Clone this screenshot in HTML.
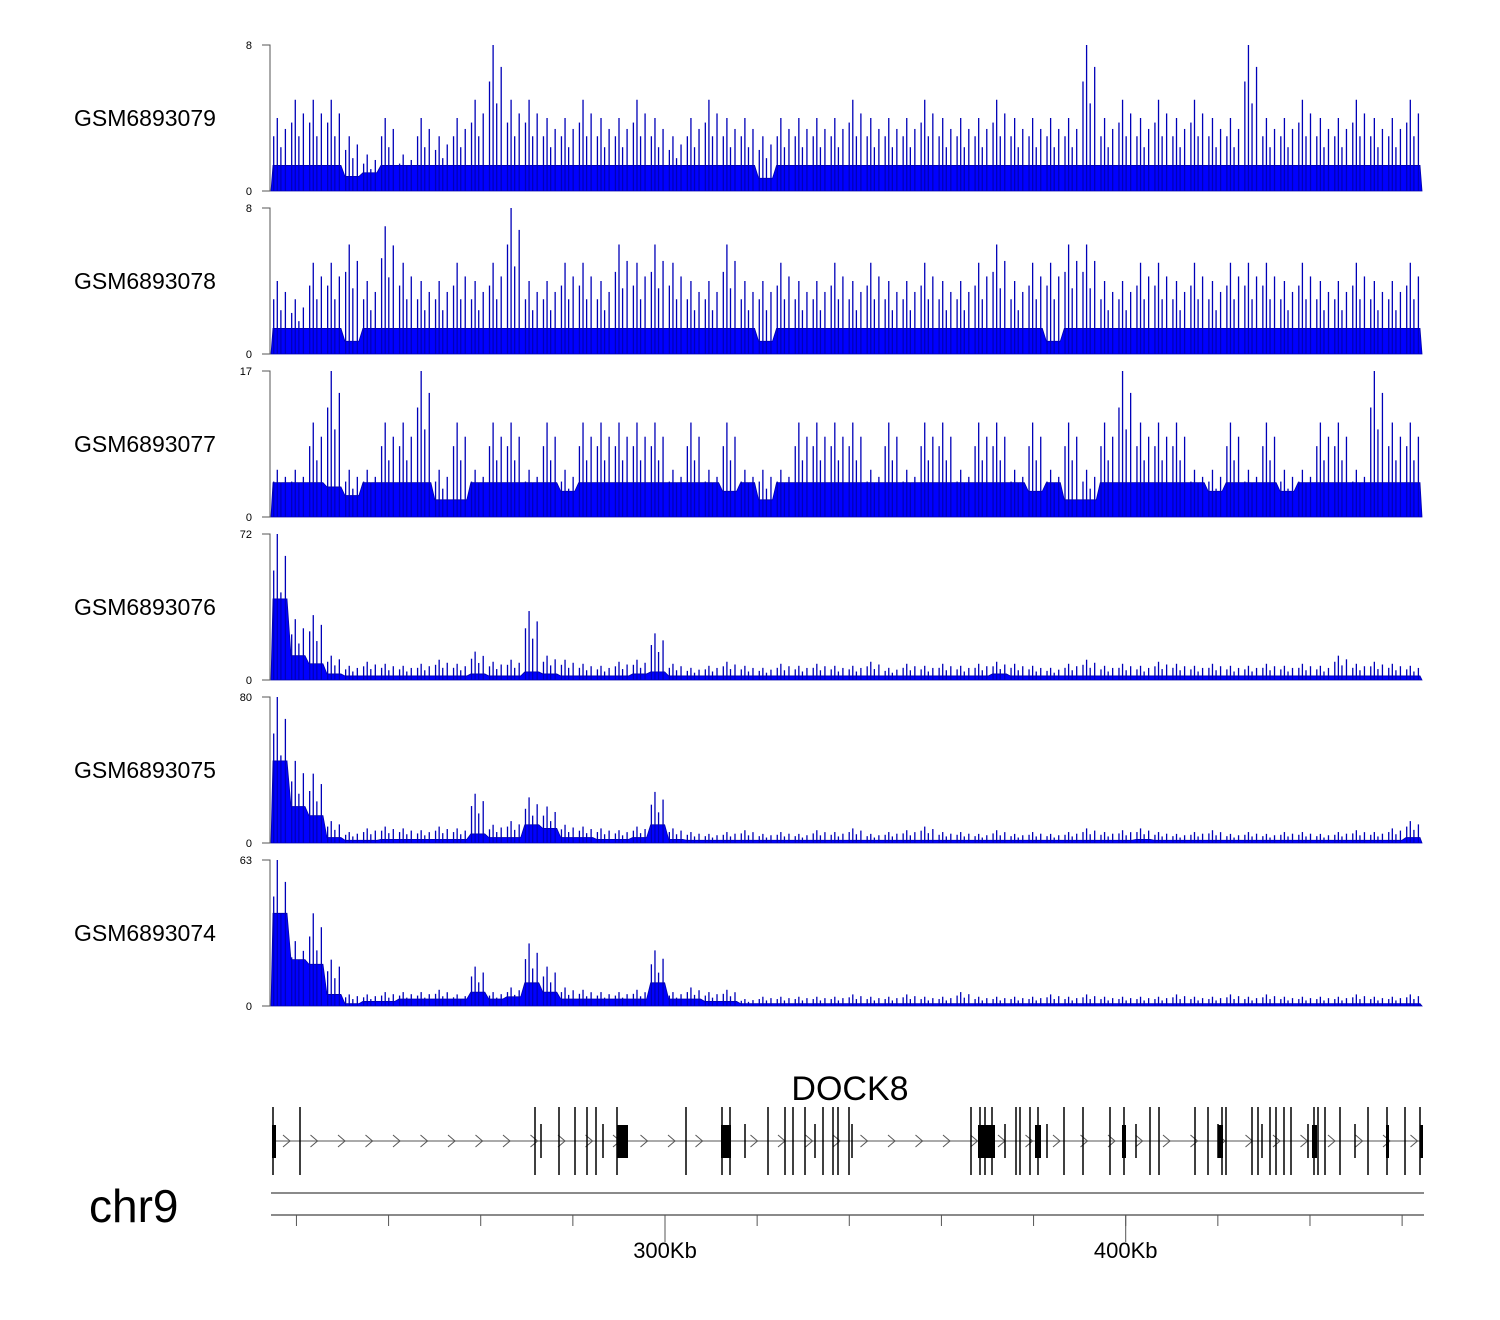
<!DOCTYPE html>
<html><head><meta charset="utf-8"><style>
html,body{margin:0;padding:0;background:#fff;}
svg{display:block;font-family:"Liberation Sans",sans-serif;}
</style></head><body>
<svg id="chart" width="1500" height="1320" viewBox="0 0 1500 1320"></svg>
<script>
const trackNames = ["GSM6893079","GSM6893078","GSM6893077","GSM6893076","GSM6893075","GSM6893074"];
const trackMax = [8,8,17,72,80,63];
const base1 = [1.4,1.4,1.4,1.4,0.8,1,1.4,1.4,1.4,1.4,1.4,1.4,1.4,1.4,1.4,1.4,1.4,1.4,1.4,1.4,1.4,1.4,1.4,1.4,1.4,1.4,1.4,0.7,1.4,1.4,1.4,1.4,1.4,1.4,1.4,1.4,1.4,1.4,1.4,1.4,1.4,1.4,1.4,1.4,1.4,1.4,1.4,1.4,1.4,1.4,1.4,1.4,1.4,1.4,1.4,1.4,1.4,1.4,1.4,1.4,1.4,1.4,1.4,1.4];
const peak1 = [4,5,5,5,3,2,4,2,4,3,4,5,8,5,5,4,4,5,4,4,5,4,3,4,5,4,4,3,4,4,4,4,5,4,4,4,5,4,4,4,5,4,4,4,4,8,4,5,4,5,4,5,4,4,8,4,4,5,4,4,5,4,4,5];
const base2 = [1.4,1.4,1.4,1.4,0.7,1.4,1.4,1.4,1.4,1.4,1.4,1.4,1.4,1.4,1.4,1.4,1.4,1.4,1.4,1.4,1.4,1.4,1.4,1.4,1.4,1.4,1.4,0.7,1.4,1.4,1.4,1.4,1.4,1.4,1.4,1.4,1.4,1.4,1.4,1.4,1.4,1.4,1.4,0.7,1.4,1.4,1.4,1.4,1.4,1.4,1.4,1.4,1.4,1.4,1.4,1.4,1.4,1.4,1.4,1.4,1.4,1.4,1.4,1.4];
const peak2 = [4,3,5,5,6,4,7,5,4,4,5,4,5,8,4,4,5,5,4,6,5,6,5,4,4,6,4,4,5,4,4,5,4,5,4,4,5,4,4,5,6,4,5,5,6,6,4,4,5,5,4,5,4,5,5,5,4,5,4,4,5,4,4,5];
const base3 = [4,4,4,3.5,2.5,4,4,4,4,2,2,4,4,4,4,4,3,4,4,4,4,4,4,4,4,3,4,2,4,4,4,4,4,4,4,4,4,4,4,4,4,4,3,4,2,2,4,4,4,4,4,4,3,4,4,4,3,4,4,4,4,4,4,4];
const peak3 = [5.5,5.5,11,17,5.5,5.5,11,11,17,5.5,11,5.5,11,11,5.5,11,5.5,11,11,11,11,11,5.5,11,5.5,11,5.5,5.5,5.5,11,11,11,11,5.5,11,5.5,11,11,5.5,11,11,5.5,11,5.5,11,5.5,11,17,11,11,11,5.5,5.5,11,5.5,11,5.5,5.5,11,11,5.5,17,11,11];
const base4 = [40,12,8,3,2,2,2,2,2,2,2,3,2,2,4,3,2,2,2,2,3,4,2,2,2,2,2,2,2,2,2,2,2,2,2,2,2,2,2,2,3,2,2,2,2,2,2,2,2,2,2,2,2,2,2,2,2,2,2,2,2,2,2,2];
const peak4 = [72,30,32,12,7,9,8,7,8,10,8,14,9,10,34,12,10,8,7,9,10,23,8,6,7,9,7,6,8,7,8,7,7,9,6,8,7,8,7,8,9,8,7,6,8,10,7,8,7,9,8,7,8,7,7,8,7,8,7,12,8,9,8,7];
const base5 = [45,20,15,3,1.5,1.5,2,2,2,2,2,5,3,3,10,8,3,3,2,2,3,10,2,1.5,1.5,1.5,1.5,1.5,1.5,1.5,1.5,1.5,1.5,1.5,1.5,1.5,1.5,1.5,1.5,1.5,1.5,1.5,1.5,1.5,1.5,1.5,1.5,1.5,2,1.5,1.5,1.5,1.5,1.5,1.5,1.5,1.5,1.5,1.5,1.5,1.5,1.5,1.5,3];
const peak5 = [80,45,38,12,6,8,9,8,7,9,8,27,10,12,25,20,10,9,8,7,9,28,8,6,5,6,7,5,6,5,7,6,8,5,6,7,9,6,6,5,7,5,6,5,6,8,6,7,8,6,5,6,7,5,6,5,6,6,5,6,7,6,8,12];
const base6 = [40,20,18,5,1,2,2,3,3,3,3,6,3,4,10,6,3,3,3,3,3,10,3,3,2,2,1,1,1,1,1,1,1,1,1,1,1,1,1,1,1,1,1,1,1,1,1,1,1,1,1,1,1,1,1,1,1,1,1,1,1,1,1,1];
const peak6 = [63,28,40,20,5,5,6,6,6,7,5,17,6,8,27,17,8,7,6,6,7,24,6,8,6,7,3,4,4,4,4,4,5,4,4,5,4,4,6,4,4,4,4,5,4,5,4,4,4,4,5,4,4,5,4,5,4,4,4,4,5,4,4,5];
const bases = [base1,base2,base3,base4,base5,base6];
const peaks = [peak1,peak2,peak3,peak4,peak5,peak6];
const exons = [273,300,535,541,559,575,587,596,603,617,686,722,730,745,768,785,793,805,815,823,833,838,849,852,971,980,985,992,1005,1016,1020,1030,1038,1047,1064,1083,1110,1124,1136,1150,1159,1195,1208,1218,1222,1226,1252,1258,1262,1270,1276,1284,1291,1308,1314,1318,1325,1340,1355,1368,1387,1405,1420];
const exonBoxes = [[272,276],[617,628],[721,731],[978,995],[1035,1041],[1122,1126],[1218,1223],[1312,1317],[1386,1389],[1420,1423]];
const tickKb = [220,240,260,280,300,320,340,360,380,400,420,440,460];
const tickLabels = ["300Kb","400Kb"];
const tickLabelKb = [300,400];

const NS = "http://www.w3.org/2000/svg";
const svg = document.getElementById("chart");
function mk(tag, attrs, parent){const e=document.createElementNS(NS,tag);for(const k in attrs)e.setAttribute(k,attrs[k]);(parent||svg).appendChild(e);return e;}
const X0 = 271, X1 = 1422, nb = 64, bw = (X1 - X0) / nb;
const xBin = i => X0 + i * bw;
const kbToX = kb => 665 + (kb - 300) * 4.607;
const spikeFrac = [[0.15,0.75],[0.35,1],[0.55,0.6],[0.8,0.85]];

trackNames.forEach((name, t) => {
  const top = 45 + t * 163, bot = top + 146;
  const y = v => bot - v / trackMax[t] * 146;
  const g = mk("g", {});
  
  
  const lab = mk("text", {x:74, y:(top+bot)/2+8, "font-size":23, fill:"#000"}, g);
  lab.textContent = name;
  
  
  const ax = mk("path", {d:`M262 ${top}H270V${bot}H262`, stroke:"#555", fill:"none", "stroke-width":1}, g);
  
  
  const tMax = mk("text", {x:252, y:top+4, "font-size":11, "text-anchor":"end", fill:"#000"}, g);
  tMax.textContent = trackMax[t];
  
  
  const tMin = mk("text", {x:252, y:bot+4, "font-size":11, "text-anchor":"end", fill:"#000"}, g);
  tMin.textContent = "0";
  
  
  const b = bases[t], p = peaks[t];
  let d = `M${X0} ${bot}`;
  b.forEach((v, i) => { d += `L${xBin(i)+2} ${y(v)}L${xBin(i+1)-2} ${y(v)}`; });
  d += `L${X1} ${bot}Z`;
  const area = mk("path", {d, fill:"#0000ff", stroke:"#0000aa", "stroke-width":0.8}, g);
  
  
  p.forEach((v, i) => {
    spikeFrac.forEach(([fx, fh]) => {
      const xx = xBin(i) + bw * fx;
      const vv = Math.max(b[i], v * fh);
      const ln = mk("line", {x1:xx, x2:xx, y1:bot, y2:y(vv), stroke:"#0000b8", "stroke-width":1.3}, g);
      
      
    });
  });
});

// gene
const gg = mk("g", {});


const gname = mk("text", {x:850, y:1100, "font-size":34, "text-anchor":"middle", fill:"#000"}, gg);
gname.textContent = "DOCK8";


const gl = mk("line", {x1:272, x2:1422, y1:1141, y2:1141, stroke:"#777", "stroke-width":1.2}, gg);


for (let x = 283; x < 1415; x += 27.5) {
  const ch = mk("path", {d:`M${x} ${1135}L${x+7} 1141L${x} 1147`, stroke:"#555", fill:"none", "stroke-width":1}, gg);
  
  
}
exons.forEach((x, i) => {
  const short = i % 5 === 3;
  const e = mk("line", {x1:x, x2:x, y1:short?1124:1107, y2:short?1158:1175, stroke:"#000", "stroke-width":1.5}, gg);
  
  
});
exonBoxes.forEach(bx => {
  const r = mk("rect", {x:bx[0], y:1125, width:bx[1]-bx[0], height:33, fill:"#000"}, gg);
  
  
});

// axis
const ag = mk("g", {});


const l1 = mk("line", {x1:271, x2:1424, y1:1193, y2:1193, stroke:"#444", "stroke-width":1.2}, ag);


const l2 = mk("line", {x1:271, x2:1424, y1:1215, y2:1215, stroke:"#444", "stroke-width":1.2}, ag);


tickKb.forEach(kb => {
  const x = kbToX(kb);
  const tk = mk("line", {x1:x, x2:x, y1:1215, y2:1226, stroke:"#555", "stroke-width":1}, ag);
  
  
});
tickLabelKb.forEach((kb, i) => {
  const x = kbToX(kb);
  const tk = mk("line", {x1:x, x2:x, y1:1215, y2:1242, stroke:"#555", "stroke-width":1}, ag);
  
  
  const tl = mk("text", {x:x, y:1258, "font-size":22, "text-anchor":"middle", fill:"#000"}, ag);
  tl.textContent = tickLabels[i];
  
  
});
const chr = mk("text", {x:89, y:1222, "font-size":46, fill:"#000"}, ag);
chr.textContent = "chr9";


</script>
</body></html>
